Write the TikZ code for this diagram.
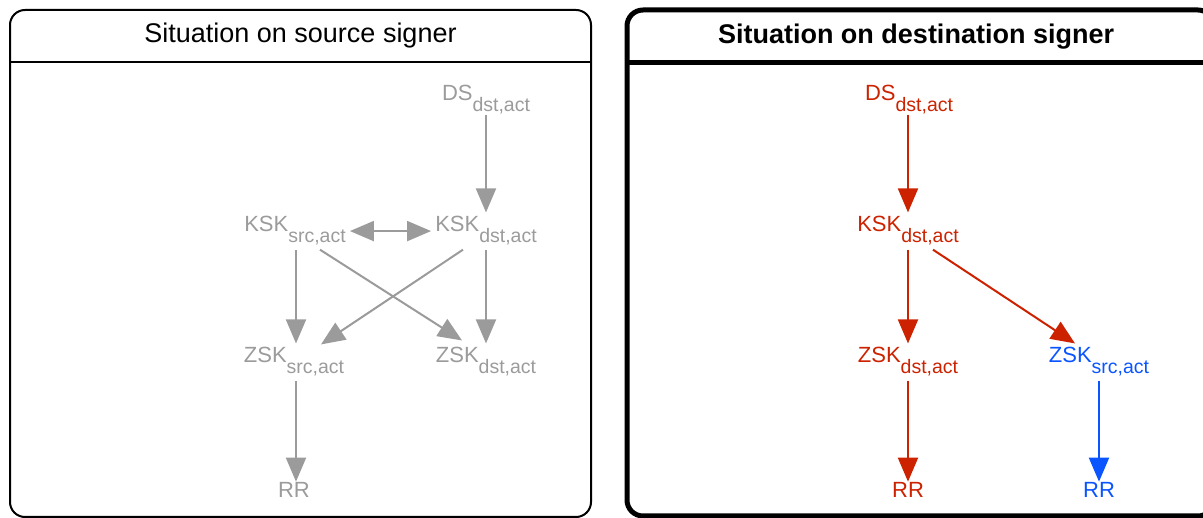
\documentclass[tikz,border=0pt]{standalone}
\usepackage{fontspec}
\setmainfont{Liberation Sans}
\usetikzlibrary{arrows.meta,calc}
\definecolor{keygray}{HTML}{9B9B9B}
\definecolor{keyred}{HTML}{CC2200}
\definecolor{keyblue}{HTML}{0A55FF}
% key name with a lowered, smaller qualifier
\newcommand\keylabel[2]{#1\raisebox{-11pt}{\fontsize{19.5pt}{21pt}\selectfont #2}}
\begin{document}
\begin{tikzpicture}[x=1pt,y=-1pt,
  keynode/.style={inner sep=4pt, anchor=base, font=\fontsize{22pt}{26pt}\selectfont},
  paneltitle/.style={inner sep=0pt, anchor=base, font=\fontsize{27pt}{32pt}\selectfont},
  link/.style={line width=2pt, -{Triangle[length=24pt,width=20pt]}},
  bothlink/.style={line width=2pt, {Triangle[length=24pt,width=20pt]}-{Triangle[length=24pt,width=20pt]}}]
\useasboundingbox (0,0) rectangle (1203,518);
\clip (0,0) rectangle (1203,518);

% panel frames
\draw[line width=2pt, rounded corners=15pt] (10,10) rectangle (591,517);
\draw[line width=2pt] (10,62) -- (591,62);
\draw[line width=5pt, rounded corners=16pt] (627,10) rectangle (1214,516);
\draw[line width=5pt] (627,63) -- (1214,63);

\node[paneltitle] (srctitle) at (300.5,43) {Situation on source signer};
\node[paneltitle, font=\fontsize{27pt}{32pt}\selectfont\bfseries] (dsttitle) at (916,44) {Situation on destination signer};

% source signer
\begin{scope}[every node/.style={keynode, text=keygray}, keygray]
\node (ds1)   at (486,101) {\keylabel{DS}{dst,act}};
\node (ksks1) at (295,232) {\keylabel{KSK}{src,act}};
\node (kskd1) at (486,232) {\keylabel{KSK}{dst,act}};
\node (zsks1) at (294,363) {\keylabel{ZSK}{src,act}};
\node (zskd1) at (486,363) {\keylabel{ZSK}{dst,act}};
\node (rr1)   at (294,498) {RR};
\draw[link, shorten <=-4pt] (ds1.south) -- (kskd1.north);
\draw[bothlink] (ksks1.east) -- (kskd1.west);
\draw[link] ($(ksks1.south)+(1,0)$) -- ($(zsks1.north)+(2,0)$);
\draw[link] (kskd1.south) -- (zskd1.north);
\draw[link] ($(ksks1.south)+(25,0)$) -- ($(zskd1.north)+(-24,-3)$);
\draw[link] ($(kskd1.south)+(-23,0)$) -- ($(zsks1.north)+(27,1)$);
\draw[link, shorten >=-3pt] ($(zsks1.south)+(2,0)$) -- ($(rr1.north)+(2,0)$);
\end{scope}

% destination signer
\begin{scope}[every node/.style={keynode}]
\node[text=keyred]  (ds2)   at (909,101)  {\keylabel{DS}{dst,act}};
\node[text=keyred]  (kskd2) at (908,232)  {\keylabel{KSK}{dst,act}};
\node[text=keyred]  (zskd2) at (908,363)  {\keylabel{ZSK}{dst,act}};
\node[text=keyblue] (zsks2) at (1099,363) {\keylabel{ZSK}{src,act}};
\node[text=keyred]  (rr2a)  at (908,498)  {RR};
\node[text=keyblue] (rr2b)  at (1099,498) {RR};
\draw[link, keyred, shorten <=-4pt] ($(ds2.south)+(-1,0)$) -- (kskd2.north);
\draw[link, keyred] (kskd2.south) -- (zskd2.north);
\draw[link, keyred] ($(kskd2.south)+(25,0)$) -- ($(zsks2.north)+(-24,0)$);
\draw[link, keyred, shorten >=-3pt] (zskd2.south) -- (rr2a.north);
\draw[link, keyblue, shorten >=-3pt] (zsks2.south) -- (rr2b.north);
\end{scope}
\end{tikzpicture}
\end{document}
